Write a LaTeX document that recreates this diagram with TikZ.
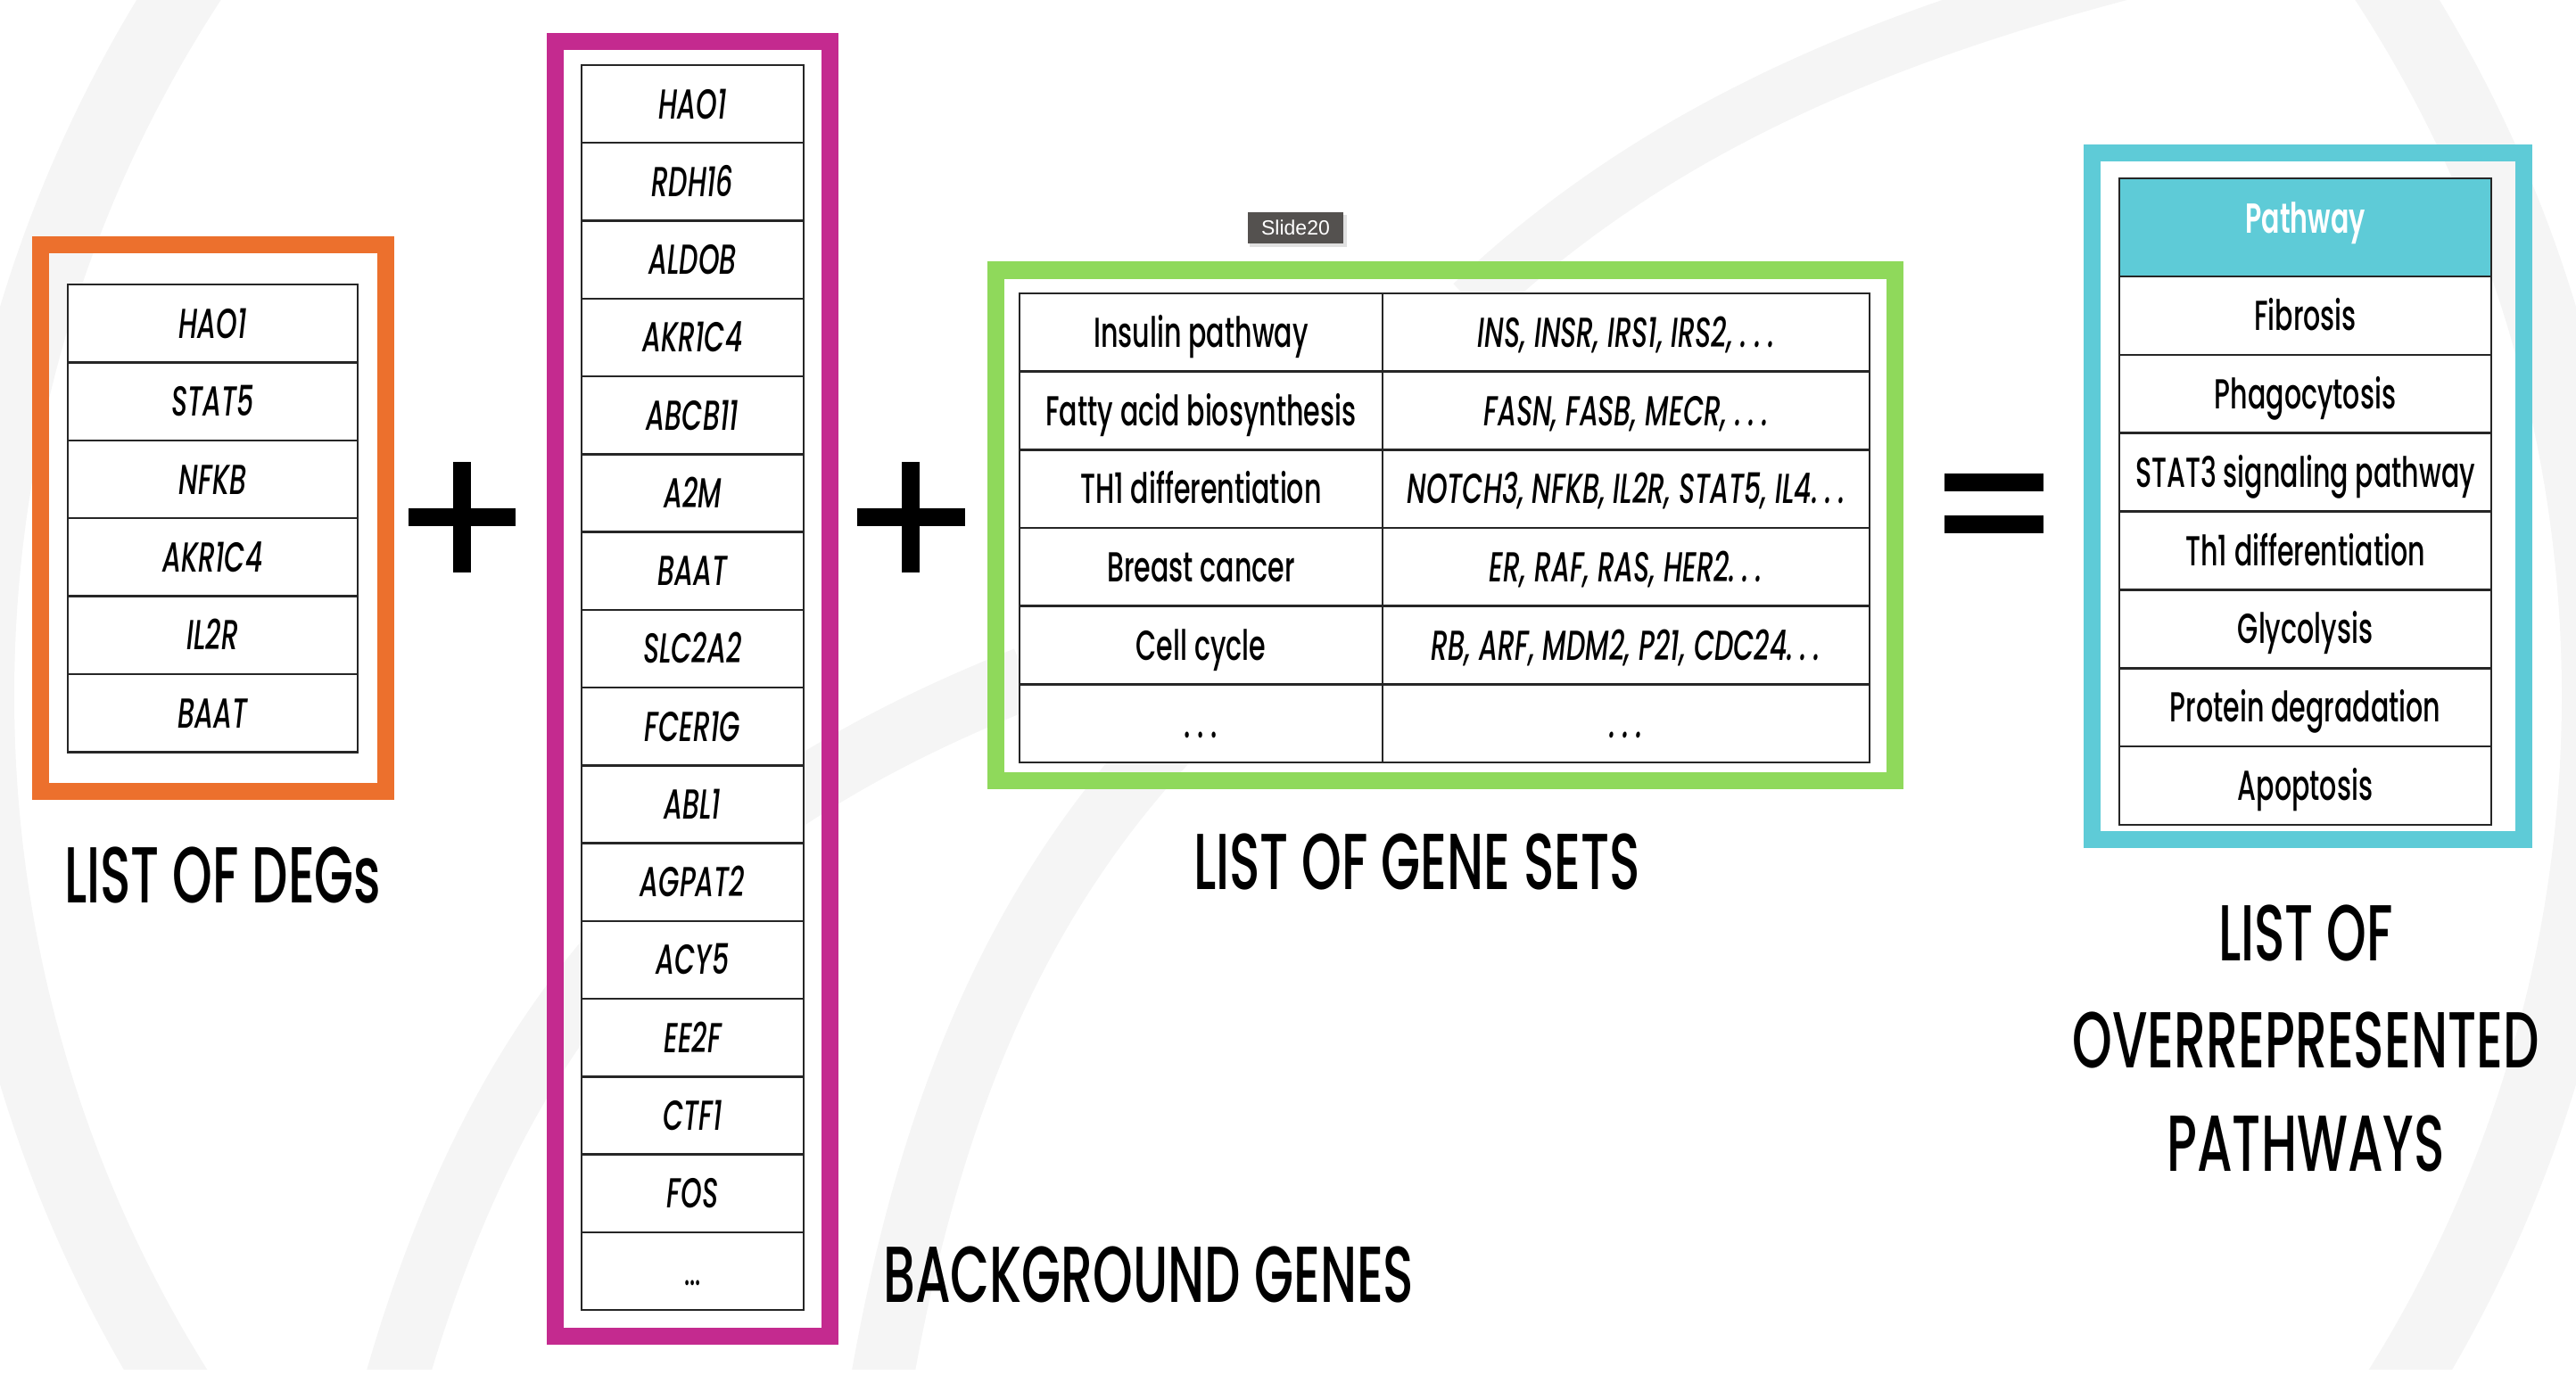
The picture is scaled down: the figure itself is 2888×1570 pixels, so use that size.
\documentclass[tikz,border=0pt]{standalone}
\usepackage{fontspec}
\setmainfont{Poppins}[UprightFont=*-Medium, BoldFont=*-SemiBold,
  ItalicFont=*-MediumItalic, BoldItalicFont=*-SemiBoldItalic, FakeStretch=0.64]
\newfontfamily\tagfont{Liberation Sans}
\definecolor{degorange}{HTML}{EC702D}
\definecolor{bgmagenta}{HTML}{C42A8F}
\definecolor{setgreen}{HTML}{8FD95B}
\definecolor{pathcyan}{HTML}{5ECBD7}
\definecolor{tagbg}{HTML}{54514F}
\definecolor{wmgray}{HTML}{F5F5F5}
\begin{document}
\begin{tikzpicture}[x=1pt,y=-1pt,
  frame/.style={line width=19pt},
  cell/.style={draw=black!85,fill=white,line width=2.5pt,rectangle,inner sep=0pt,
    text height=33pt,text depth=0pt,font=\fontsize{47}{50}\selectfont},
  gene/.style={cell,font=\fontsize{47}{50}\selectfont\itshape},
  degcell/.style={gene,minimum width=325pt,minimum height=87.4pt},
  bgcell/.style={gene,minimum width=249pt,minimum height=87.25pt},
  setname/.style={cell,minimum width=407pt,minimum height=87.67pt},
  setgenes/.style={gene,minimum width=546pt,minimum height=87.67pt},
  pathcell/.style={cell,minimum width=417pt,minimum height=87.86pt},
  title/.style={font=\fontsize{89}{100}\selectfont,inner sep=0pt},
  sym/.style={line width=20pt,black},
  wm/.style={draw=wmgray}
]
\useasboundingbox (0,0) rectangle (2888,1570);

% faint watermark behind everything
\begin{scope}
  \clip (0,0) rectangle (2888,1535);
  \draw[wm,line width=80pt] (1444,780) circle[radius=1468];
  \draw[wm,line width=70pt] (430,1600) .. controls (560,1100) and (800,900) .. (1150,760);
  \draw[wm,line width=70pt] (980,1600) .. controls (1050,1150) and (1200,900) .. (1450,700);
  \draw[wm,line width=60pt] (2420,-40) .. controls (2100,40) and (1850,150) .. (1650,340);
\end{scope}

% list of DEGs
\foreach \g [count=\i] in {HAO1,STAT5,NFKB,AKR1C4,IL2R,BAAT}
  \node[degcell] (deg\i) at (238.5,{319+87.4*(\i-0.5)}) {\g};
\draw[frame,degorange] (45,275) rectangle (432.5,887);
\node[title,anchor=base west] (degtitle) at (72,1012) {LIST OF DEGs};

% plus signs and equals sign
\draw[sym] (458,580) -- (578,580) (518,518) -- (518,642);
\draw[sym] (961,580) -- (1082,580) (1021,518) -- (1021,642);
\draw[sym] (2180,541) -- (2291,541) (2180,588) -- (2291,588);

% background genes
\foreach \g [count=\i] in {HAO1,RDH16,ALDOB,AKR1C4,ABCB11,A2M,BAAT,SLC2A2,FCER1G,ABL1,AGPAT2,ACY5,EE2F,CTF1,FOS}
  \node[bgcell] (bg\i) at (776.5,{73+87.25*(\i-0.5)}) {\g};
\node[bgcell,font=\fontsize{40}{44}\selectfont] (bg16) at (776.5,{73+87.25*15.5}) {...};
\draw[frame,bgmagenta] (622,47) rectangle (930,1498);
\node[title,anchor=base west] (bgtitle) at (990,1460) {BACKGROUND GENES};

% slide tag
\fill[black,opacity=0.12] (1401,241) rectangle (1510,277);
\node[fill=tagbg,text=white,minimum width=107pt,minimum height=35pt,inner sep=0pt,
  font=\tagfont\fontsize{23}{26}\selectfont] (tag) at (1452.5,255.5) {Slide20};

% list of gene sets
\foreach \n/\g [count=\i] in {
  Insulin pathway/{INS, INSR, IRS1, IRS2, .\,.\,.},
  Fatty acid biosynthesis/{FASN, FASB, MECR, .\,.\,.},
  TH1 differentiation/{NOTCH3, NFKB, IL2R, STAT5, IL4.\,.\,.},
  Breast cancer/{ER, RAF, RAS, HER2.\,.\,.},
  Cell cycle/{RB, ARF, MDM2, P21, CDC24.\,.\,.},
  {.\,.\,.}/{.\,.\,.}} {
  \node[setname] (sn\i) at (1346.5,{329+87.67*(\i-0.5)}) {\n};
  \node[setgenes] (sg\i) at (1823,{329+87.67*(\i-0.5)}) {\g};
}
\draw[frame,setgreen] (1116,303) rectangle (2124,875.5);
\node[title,anchor=base west] (settitle) at (1338,997) {LIST OF GENE SETS};

% overrepresented pathways
\node[cell,fill=pathcyan,text=white,font=\fontsize{47}{50}\selectfont\bfseries,
  text depth=19pt,minimum width=417pt,minimum height=110pt] (phead) at (2584.5,255) {Pathway};
\foreach \p [count=\i] in {Fibrosis,Phagocytosis,STAT3 signaling pathway,Th1 differentiation,Glycolysis,Protein degradation,Apoptosis}
  \node[pathcell] (pw\i) at (2584.5,{310+87.86*(\i-0.5)}) {\p};
\draw[frame,pathcyan] (2345,172) rectangle (2829,941);
\node[title,anchor=base] (pt1) at (2585,1077) {LIST OF};
\node[title,anchor=base] (pt2) at (2585,1197) {OVERREPRESENTED};
\node[title,anchor=base] (pt3) at (2585,1313) {PATHWAYS};
\end{tikzpicture}
\end{document}
